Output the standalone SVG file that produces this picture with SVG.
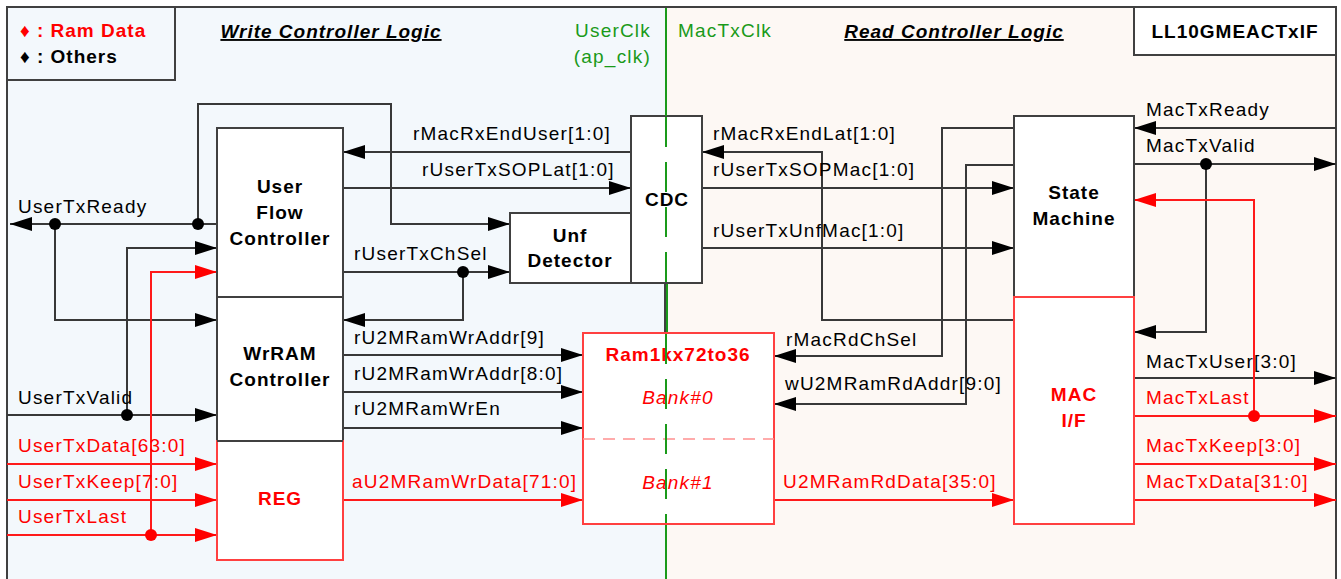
<svg xmlns="http://www.w3.org/2000/svg" width="1341" height="579" viewBox="0 0 1341 579">
  <defs>
    <marker id="ah" markerUnits="userSpaceOnUse" markerWidth="22" markerHeight="14" refX="22" refY="7" orient="auto">
      <path d="M0,0 L22,7 L0,14 z" fill="#000"/>
    </marker>
    <marker id="ahr" markerUnits="userSpaceOnUse" markerWidth="22" markerHeight="14" refX="22" refY="7" orient="auto">
      <path d="M0,0 L22,7 L0,14 z" fill="#ff0000"/>
    </marker>
  </defs>
  <style>
    text { font-family: "Liberation Sans", Arial, sans-serif; font-size: 19px; letter-spacing: 1.2px; }
    .b { font-weight: bold; letter-spacing: 1px; }
    .c { text-anchor: middle; }
    .red { fill: #ff0000; }
    .grn { fill: #1a9a1a; }
    .title { font-weight: bold; font-style: italic; text-decoration: underline; letter-spacing: 1px; }
    .box { fill: #fff; stroke: #404040; stroke-width: 2; }
    .rbox { fill: #fff; stroke: #ff4040; stroke-width: 2; }
    .ln { fill: none; stroke: #383838; stroke-width: 2; marker-end: url(#ah); }
    .lp { fill: none; stroke: #383838; stroke-width: 2; }
    .rl { fill: none; stroke: #ff1a1a; stroke-width: 2; marker-end: url(#ahr); }
    .rp { fill: none; stroke: #ff1a1a; stroke-width: 2; }
    .dot { fill: #000; }
    .rdot { fill: #ff0000; }
    .clk { stroke: #1a9a1a; stroke-width: 2; fill: none; }
    .clkd { stroke: #1a9a1a; stroke-width: 2; fill: none; stroke-dasharray: 30 15; }
  </style>

  <!-- clock domains -->
  <g id="domains">
    <rect x="7" y="7" width="659" height="600" fill="#f3f8fc" stroke="#404040" stroke-width="2"/>
    <rect x="666" y="7" width="670" height="600" fill="#fdf8f4" stroke="#404040" stroke-width="2"/>
  </g>

  <g id="legend">
    <rect x="7" y="7" width="168" height="73" fill="#f3f8fc" stroke="#404040" stroke-width="2"/>
    <text x="20" y="37" class="b red">♦ : Ram Data</text>
    <text x="20" y="63" class="b">♦ : Others</text>
  </g>

  <g id="titles">
    <text x="331" y="38" class="title c">Write Controller Logic</text>
    <text x="954" y="38" class="title c">Read Controller Logic</text>
    <text x="651" y="37" class="grn" text-anchor="end">UserClk</text>
    <text x="651" y="63" class="grn" text-anchor="end">(ap_clk)</text>
    <text x="678" y="37" class="grn">MacTxClk</text>
  </g>

  <g id="module-name">
    <rect x="1134" y="7" width="202" height="48" fill="#fff" stroke="#404040" stroke-width="2"/>
    <text x="1235" y="38" class="b c">LL10GMEACTxIF</text>
  </g>

  <!-- connectors -->
  <g id="connectors">
    <!-- write side, inputs -->
    <path class="ln" d="M217,224 H10"/>
    <path class="ln" d="M55,224 V320 H217"/>
    <path class="ln" d="M198,224 V104 H391 V224 H510"/>
    <path class="ln" d="M127,415 V248 H217"/>
    <path class="ln" d="M7,415 H217"/>
    <path class="rl" d="M151,535 V272 H217"/>
    <path class="rl" d="M7,464 H217"/>
    <path class="rl" d="M7,500 H217"/>
    <path class="rl" d="M7,535 H217"/>
    <!-- write side, internal -->
    <path class="ln" d="M631,152 H343"/>
    <path class="ln" d="M343,188 H631"/>
    <path class="ln" d="M343,272 H510"/>
    <path class="ln" d="M463,272 V320 H343"/>
    <path class="ln" d="M343,355 H583"/>
    <path class="ln" d="M343,392 H583"/>
    <path class="ln" d="M343,428 H583"/>
    <path class="rl" d="M343,500 H583"/>
    <!-- read side, internal -->
    <path class="ln" d="M1014,320 H822 V152 H702"/>
    <path class="ln" d="M702,188 H1014"/>
    <path class="ln" d="M702,248 H1014"/>
    <path class="ln" d="M1014,128 H942 V356 H774"/>
    <path class="ln" d="M1014,165 H966 V404 H774"/>
    <path class="rl" d="M774,500 H1014"/>
    <!-- read side, outputs -->
    <path class="ln" d="M1336,128 H1134"/>
    <path class="ln" d="M1134,164 H1336"/>
    <path class="ln" d="M1206,164 V332 H1134"/>
    <path class="ln" d="M1134,378 H1336"/>
    <path class="rl" d="M1134,416 H1336"/>
    <path class="rl" d="M1254,416 V200 H1134"/>
    <path class="rl" d="M1134,464 H1336"/>
    <path class="rl" d="M1134,500 H1336"/>

    <!-- junction dots -->
    <circle class="dot" cx="55" cy="224" r="6"/>
    <circle class="dot" cx="198" cy="224" r="6"/>
    <circle class="dot" cx="127" cy="415" r="6"/>
    <circle class="dot" cx="463" cy="272" r="6"/>
    <circle class="dot" cx="1206" cy="164" r="6"/>
    <circle class="rdot" cx="151" cy="535" r="6"/>
    <circle class="rdot" cx="1254" cy="416" r="6"/>

    <!-- signal labels -->
    <text x="18" y="213">UserTxReady</text>
    <text x="18" y="404">UserTxValid</text>
    <text x="18" y="452" class="red">UserTxData[63:0]</text>
    <text x="18" y="488" class="red">UserTxKeep[7:0]</text>
    <text x="18" y="523" class="red">UserTxLast</text>
    <text x="413" y="140">rMacRxEndUser[1:0]</text>
    <text x="422" y="176">rUserTxSOPLat[1:0]</text>
    <text x="354" y="260">rUserTxChSel</text>
    <text x="354" y="344">rU2MRamWrAddr[9]</text>
    <text x="354" y="380">rU2MRamWrAddr[8:0]</text>
    <text x="354" y="415">rU2MRamWrEn</text>
    <text x="352" y="488" class="red">aU2MRamWrData[71:0]</text>
    <text x="713" y="140">rMacRxEndLat[1:0]</text>
    <text x="713" y="176">rUserTxSOPMac[1:0]</text>
    <text x="713" y="237">rUserTxUnfMac[1:0]</text>
    <text x="786" y="346">rMacRdChSel</text>
    <text x="785" y="390">wU2MRamRdAddr[9:0]</text>
    <text x="783" y="488" class="red">U2MRamRdData[35:0]</text>
    <text x="1146" y="116">MacTxReady</text>
    <text x="1146" y="152">MacTxValid</text>
    <text x="1146" y="368">MacTxUser[3:0]</text>
    <text x="1146" y="404" class="red">MacTxLast</text>
    <text x="1146" y="452" class="red">MacTxKeep[3:0]</text>
    <text x="1146" y="488" class="red">MacTxData[31:0]</text>
  </g>

  <g id="user-flow-controller">
    <rect class="box" x="217" y="128" width="126" height="169"/>
    <text x="280" y="193" class="b c">User</text>
    <text x="280" y="219" class="b c">Flow</text>
    <text x="280" y="245" class="b c">Controller</text>
  </g>

  <g id="wrram-controller">
    <rect class="box" x="217" y="297" width="126" height="144"/>
    <text x="280" y="360" class="b c">WrRAM</text>
    <text x="280" y="386" class="b c">Controller</text>
  </g>

  <g id="reg">
    <rect class="rbox" x="217" y="441" width="126" height="119"/>
    <line x1="217" y1="441" x2="343" y2="441" stroke="#404040" stroke-width="2"/>
    <text x="280" y="505" class="b c red">REG</text>
  </g>

  <g id="unf-detector">
    <rect class="box" x="510" y="213" width="121" height="70"/>
    <text x="570" y="242" class="b c">Unf</text>
    <text x="570" y="267" class="b c">Detector</text>
  </g>

  <g id="cdc">
    <rect class="box" x="631" y="116" width="71" height="167"/>
    <text x="667" y="206" class="b c">CDC</text>
  </g>

  <g id="ram">
    <rect class="rbox" x="583" y="333" width="191" height="191"/>
    <line x1="583" y1="439" x2="774" y2="439" stroke="#ff9090" stroke-width="1.5" stroke-dasharray="12 8"/>
    <text x="678" y="361" class="b c red">Ram1kx72to36</text>
    <text x="678" y="404" class="c red" font-style="italic">Bank#0</text>
    <text x="678" y="489" class="c red" font-style="italic">Bank#1</text>
  </g>

  <g id="state-machine">
    <rect class="box" x="1014" y="116" width="120" height="181"/>
    <text x="1074" y="199" class="b c">State</text>
    <text x="1074" y="225" class="b c">Machine</text>
  </g>

  <g id="mac-if">
    <rect class="rbox" x="1014" y="297" width="120" height="227"/>
    <text x="1074" y="401" class="b c red">MAC</text>
    <text x="1074" y="427" class="b c red">I/F</text>
  </g>

  <!-- clock-domain boundary -->
  <g id="clock-boundary">
    <line class="clk" x1="666" y1="8" x2="666" y2="116"/>
    <line class="clkd" x1="666" y1="117" x2="666" y2="282"/>
    <line x1="665" y1="284" x2="665" y2="332" stroke="#404040" stroke-width="2"/>
    <line class="clk" x1="667" y1="284" x2="667" y2="332"/>
    <line class="clkd" x1="666" y1="334" x2="666" y2="523"/>
    <line class="clk" x1="666" y1="525" x2="666" y2="579"/>
  </g>
</svg>
